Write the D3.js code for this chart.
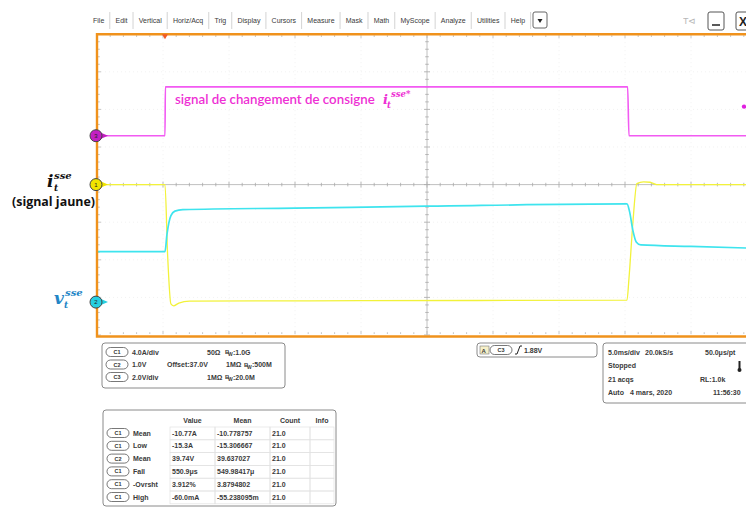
<!DOCTYPE html>
<html><head><meta charset="utf-8">
<script src="https://cdn.jsdelivr.net/npm/d3@7"></script>
<style>html,body{margin:0;padding:0;background:#fff;overflow:hidden} svg{display:block;}</style>
</head><body>
<svg id="c" width="746" height="508"></svg>
<script>
// ---------- DATA ----------
const menuItems = ["File","Edit","Vertical","Horiz/Acq","Trig","Display","Cursors","Measure","Mask","Math","MyScope","Analyze","Utilities","Help"];

// time in ms (5 ms/div, 10 div)
const c1Time = [0, 5.15, 5.35, 5.6, 5.8, 6.2, 7.0, 20, 40.15, 40.3, 40.6, 40.9, 41.4, 41.9, 42.4, 50];
const c1Amps = [0, 0, -7.5, -12.7, -12.9, -12.6, -12.4, -12.35, -12.3, -10, -4, 0.1, 0.3, 0.25, 0, 0];

const c2Time = [0, 5.15, 5.3, 5.6, 5.9, 6.5, 15, 25, 40.15, 40.35, 40.6, 40.85, 41.2, 45, 50];
const c2Volts = [38.34, 38.34, 38.8, 39.3, 39.42, 39.46, 39.5, 39.55, 39.61, 39.4, 38.9, 38.6, 38.52, 38.48, 38.43];

const c3Time = [0, 5.15, 5.18, 40.2, 40.3, 50];
const c3Volts = [0, 0, 2.6, 2.6, 0, 0];

const channelNames = ["1", "2", "3"];
const channelScale = [4, 1, 2];        // units per division
const channelOffset = [0, 37, 0];      // offset (units)
const channelPosition = [0, -3.125, 1.3]; // marker position (div)

const chanRows = [
  ["C1", "4.0A/div", "", "50Ω", "1.0G"],
  ["C2", "1.0V", "Offset:37.0V", "1MΩ", "500M"],
  ["C3", "2.0V/div", "", "1MΩ", "20.0M"]
];

const horizRows = [
  ["5.0ms/div", "20.0kS/s", "50.0μs/pt"],
  ["Stopped", "", ""],
  ["21 acqs", "", "RL:1.0k"],
  ["Auto", "4 mars, 2020", "11:56:30"]
];

const measHeaders = ["Value", "Mean", "Count", "Info"];
const measSources = ["C1", "C1", "C2", "C1", "C1", "C1"];
const measNames = ["Mean", "Low", "Mean", "Fall", "-Ovrsht", "High"];
const measValues = ["-10.77A", "-15.3A", "39.74V", "550.9μs", "3.912%", "-60.0mA"];
const measMeans = ["-10.778757", "-15.306667", "39.637027", "549.98417μ", "3.8794802", "-55.238095m"];
const measCounts = ["21.0", "21.0", "21.0", "21.0", "21.0", "21.0"];

const trigLevel = "1.88V";
const trigMarkerVolts = 1.55;

// ---------- DRAW ----------
const svg = d3.select("#c");
const W = 746, H = 508;
const plot = {l: 97, t: 34.2, r: 757, b: 335};
const x = d3.scaleLinear().domain([0, 50]).range([plot.l, plot.r]);
const yDiv = d3.scaleLinear().domain([-4, 4]).range([plot.b, plot.t]);
const divW = (plot.r - plot.l) / 10, divH = (plot.b - plot.t) / 8;
const font = "Liberation Sans, Arial, sans-serif";
const txtCol = "#3a3a3a";

// menu bar
let mx = 93;
const menuG = svg.append("g").attr("font-family", font).attr("font-size", 7).attr("fill", txtCol);
menuItems.forEach((m, i) => {
  const t = menuG.append("text").attr("x", mx).attr("y", 23).text(m);
  const w = t.node().getComputedTextLength();
  menuG.append("line").attr("x1", mx + w + 5.5).attr("x2", mx + w + 5.5).attr("y1", 12).attr("y2", 29)
    .attr("stroke", "#c8c8c8").attr("stroke-width", 0.8);
  mx += w + 11.2;
});
svg.append("rect").attr("x", 533).attr("y", 12).attr("width", 14).attr("height", 16).attr("rx", 2)
  .attr("fill", "#fff").attr("stroke", "#666");
svg.append("path").attr("d", "M537.5,19 L542.5,19 L540,23 Z").attr("fill", "#222");
svg.append("text").attr("x", 683).attr("y", 24).attr("font-family", font).attr("font-size", 9).attr("fill", "#999").text("T⊲").attr("opacity", 0.7);
svg.append("rect").attr("x", 708).attr("y", 12).attr("width", 16).attr("height", 18).attr("rx", 2).attr("fill", "#fff").attr("stroke", "#555");
svg.append("line").attr("x1", 712).attr("x2", 720).attr("y1", 25).attr("y2", 25).attr("stroke", "#222").attr("stroke-width", 1.5);
svg.append("rect").attr("x", 736).attr("y", 12).attr("width", 16).attr("height", 18).attr("rx", 2).attr("fill", "#fff").attr("stroke", "#555");
svg.append("text").attr("x", 739).attr("y", 26).attr("font-family", font).attr("font-size", 12).attr("font-weight", "bold").attr("fill", "#222").text("X");

// grid
const grid = svg.append("g");
for (let k = 1; k < 10; k++) {
  if (k === 5) continue;
  grid.append("line").attr("x1", plot.l + k * divW).attr("x2", plot.l + k * divW).attr("y1", plot.t).attr("y2", plot.b)
    .attr("stroke", "#ececec").attr("stroke-width", 0.7).attr("stroke-dasharray", "1,3");
}
for (let k = 1; k < 8; k++) {
  if (k === 4) continue;
  grid.append("line").attr("x1", plot.l).attr("x2", plot.r).attr("y1", plot.t + k * divH).attr("y2", plot.t + k * divH)
    .attr("stroke", "#ececec").attr("stroke-width", 0.7).attr("stroke-dasharray", "1,3");
}
const cx = plot.l + 5 * divW, cy = plot.t + 4 * divH;
grid.append("line").attr("x1", plot.l).attr("x2", plot.r).attr("y1", cy).attr("y2", cy).attr("stroke", "#b0b0b0").attr("stroke-width", 0.8);
grid.append("line").attr("x1", cx).attr("x2", cx).attr("y1", plot.t).attr("y2", plot.b).attr("stroke", "#b0b0b0").attr("stroke-width", 0.8);
for (let k = 0; k <= 50; k++) {
  const px = plot.l + k * divW / 5, big = k % 5 === 0 ? 3 : 1.8;
  grid.append("line").attr("x1", px).attr("x2", px).attr("y1", cy - big).attr("y2", cy + big).attr("stroke", "#aaa").attr("stroke-width", 0.8);
  grid.append("line").attr("x1", px).attr("x2", px).attr("y1", plot.t + 1).attr("y2", plot.t + 1 + big).attr("stroke", "#b8b8b8").attr("stroke-width", 0.8);
  grid.append("line").attr("x1", px).attr("x2", px).attr("y1", plot.b - 1).attr("y2", plot.b - 1 - big).attr("stroke", "#b8b8b8").attr("stroke-width", 0.8);
}
for (let k = 0; k <= 40; k++) {
  const py = plot.t + k * divH / 5, big = k % 5 === 0 ? 3 : 1.8;
  grid.append("line").attr("x1", cx - big).attr("x2", cx + big).attr("y1", py).attr("y2", py).attr("stroke", "#aaa").attr("stroke-width", 0.8);
  grid.append("line").attr("x1", plot.l + 1).attr("x2", plot.l + 1 + big).attr("y1", py).attr("y2", py).attr("stroke", "#b8b8b8").attr("stroke-width", 0.8);
}

// traces
const defs = svg.append("defs");
defs.append("clipPath").attr("id", "clip").append("rect").attr("x", plot.l).attr("y", plot.t).attr("width", plot.r - plot.l).attr("height", plot.b - plot.t);
const colors = ["#f2f23a", "#3ee4ee", "#f25af2"];
const widths = [1.3, 1.7, 1.6];
const markerFill = ["#f0e400", "#27cfe0", "#c31fc3"];
function yFor(ch, v) { return yDiv((v - channelOffset[ch]) / channelScale[ch] + channelPosition[ch]); }
const series = [
  {ch: 2, t: c3Time, v: c3Volts},
  {ch: 0, t: c1Time, v: c1Amps},
  {ch: 1, t: c2Time, v: c2Volts}
];
const traces = svg.append("g").attr("clip-path", "url(#clip)");
series.forEach(s => {
  const pts = s.t.map((t, i) => [t, s.v[i]]);
  const line = d3.line().x(d => x(d[0])).y(d => yFor(s.ch, d[1])).curve(d3.curveMonotoneX);
  traces.append("path").datum(pts).attr("d", line).attr("fill", "none").attr("stroke", colors[s.ch]).attr("stroke-width", widths[s.ch]);
});

// annotation text
const ann = svg.append("text").attr("x", 175).attr("y", 104).attr("font-family", "Lato, sans-serif").attr("font-size", 13.5)
  .attr("font-weight", 600).attr("fill", "#ee2fd4");
ann.append("tspan").text("signal de changement de consigne ").attr("textLength", 203).attr("lengthAdjust", "spacingAndGlyphs");
ann.append("tspan").attr("x", 383).attr("y", 104).attr("font-family", "DejaVu Serif, serif").attr("font-style", "italic").attr("font-size", 13).text("i");
ann.append("tspan").attr("x", 391).attr("y", 97).attr("font-family", "DejaVu Serif, serif").attr("font-style", "italic").attr("font-size", 8.5).text("sse*");
ann.append("tspan").attr("x", 387).attr("y", 108).attr("font-family", "DejaVu Serif, serif").attr("font-style", "italic").attr("font-size", 8.5).text("t");

// frame
svg.append("path").attr("d", `M${W + 5},${plot.t} L${plot.l},${plot.t} L${plot.l},${plot.b + 1.5} L${W + 5},${plot.b + 1.5}`)
  .attr("fill", "none").attr("stroke", "#f0921c").attr("stroke-width", 2.4);
// trigger position marker
svg.append("path").attr("d", `M${x(5.15) - 3},${plot.t} L${x(5.15) + 3},${plot.t} L${x(5.15)},${plot.t + 5} Z`).attr("fill", "#f05a28");
// trigger level marker (right)
svg.append("circle").attr("cx", W - 2).attr("cy", yFor(2, trigMarkerVolts)).attr("r", 2.2).attr("fill", "#e020e0");

// channel markers
[2, 0, 1].forEach(ch => {
  const py = yDiv(channelPosition[ch]);
  const g = svg.append("g");
  g.append("path").attr("d", `M101,${py - 3} L108,${py} L101,${py + 3} Z`).attr("fill", markerFill[ch]);
  g.append("circle").attr("cx", 96).attr("cy", py).attr("r", 6).attr("fill", markerFill[ch]).attr("stroke", "#444").attr("stroke-width", 1);
  g.append("text").attr("x", 96).attr("y", py + 2).attr("text-anchor", "middle").attr("font-family", font).attr("font-size", 6)
    .attr("fill", "#222").text(channelNames[ch]);
});

// left labels
function mathLabel(xp, yp, base, color) {
  const t = svg.append("text").attr("font-family", "DejaVu Serif, serif").attr("font-style", "italic").attr("font-weight", "bold").attr("fill", color);
  t.append("tspan").attr("x", xp).attr("y", yp).attr("font-size", 17).text(base);
  t.append("tspan").attr("x", xp + (base === "i" ? 7 : 11)).attr("y", yp - 8).attr("font-size", 10).text("sse");
  t.append("tspan").attr("x", xp + (base === "i" ? 7 : 10)).attr("y", yp + 4).attr("font-size", 9).text("t");
}
mathLabel(47, 187, "i", "#111");
mathLabel(54, 304, "v", "#2385c6");
svg.append("text").attr("x", 12).attr("y", 206).attr("font-family", "Open Sans, sans-serif").attr("font-weight", "bold").attr("font-size", 12)
  .attr("fill", "#111").text("(signal jaune)").attr("textLength", 83).attr("lengthAdjust", "spacingAndGlyphs");

// pill helper
function pill(g, xp, yp, label) {
  g.append("rect").attr("x", xp).attr("y", yp - 4.5).attr("width", 22).attr("height", 9).attr("rx", 4.5)
    .attr("fill", "#fff").attr("stroke", "#555").attr("stroke-width", 0.8);
  g.append("text").attr("x", xp + 11).attr("y", yp + 2).attr("text-anchor", "middle").attr("font-family", font).attr("font-size", 5.5).attr("fill", "#333").text(label);
}
function panel(x0, y0, w, h) {
  svg.append("rect").attr("x", x0).attr("y", y0).attr("width", w).attr("height", h).attr("rx", 3)
    .attr("fill", "#fff").attr("stroke", "#8a8a8a").attr("stroke-width", 1);
}

// channel panel
panel(102, 343, 183, 45);
const cp = svg.append("g").attr("font-family", font).attr("font-size", 7).attr("fill", txtCol).attr("font-weight", "bold");
chanRows.forEach((r, i) => {
  const py = 352 + i * 12.5;
  pill(cp, 106, py, r[0]);
  cp.append("text").attr("x", 132).attr("y", py + 2.5).text(r[1]);
  if (r[2]) cp.append("text").attr("x", 167).attr("y", py + 2.5).text(r[2]);
  const ox = i === 1 ? 226 : 207;
  cp.append("text").attr("x", ox).attr("y", py + 2.5).text(r[3]);
  const bx = ox + 18;
  cp.append("text").attr("x", bx).attr("y", py + 2).text("B").attr("font-size", 6);
  cp.append("text").attr("x", bx + 3).attr("y", py + 4).text("W").attr("font-size", 5);
  cp.append("text").attr("x", bx + 8).attr("y", py + 2.5).text(":" + r[4]);
});

// trigger panel
panel(477, 343, 120, 14);
const tp = svg.append("g").attr("font-family", font).attr("font-size", 7).attr("fill", txtCol).attr("font-weight", "bold");
tp.append("rect").attr("x", 480).attr("y", 346).attr("width", 9).attr("height", 8).attr("fill", "#f6f0c8").attr("stroke", "#777").attr("stroke-width", 0.6);
tp.append("text").attr("x", 481.5).attr("y", 352.5).attr("font-size", 6).text("A");
pill(tp, 490, 350, "C3");
tp.append("path").attr("d", "M515,354 L517,354 L520,346 L522,346").attr("fill", "none").attr("stroke", "#222").attr("stroke-width", 1);
tp.append("text").attr("x", 524).attr("y", 352.5).text(trigLevel);

// horizontal panel
panel(603, 343, 160, 60);
const hp = svg.append("g").attr("font-family", font).attr("font-size", 7).attr("fill", txtCol).attr("font-weight", "bold");
horizRows.forEach((r, i) => {
  const py = 354.5 + i * 13.5;
  hp.append("text").attr("x", 608).attr("y", py).text(r[0]);
  if (r[1]) hp.append("text").attr("x", i === 3 ? 630 : 645).attr("y", py).text(r[1]);
  if (r[2]) hp.append("text").attr("x", i === 3 ? 713 : (i === 2 ? 700 : 705)).attr("y", py).text(r[2]);
});
hp.append("rect").attr("x", 738.5).attr("y", 361).attr("width", 2).attr("height", 8).attr("fill", "#222");
hp.append("circle").attr("cx", 739.5).attr("cy", 370).attr("r", 2).attr("fill", "#222");

// measurement panel
panel(103, 410, 233, 96);
const mp = svg.append("g").attr("font-family", font).attr("font-size", 7).attr("fill", txtCol).attr("font-weight", "bold");
const colX = [170, 215, 270, 310, 334];
measHeaders.forEach((h, i) => {
  mp.append("text").attr("x", (colX[i] + colX[i + 1]) / 2).attr("y", 422.5).attr("text-anchor", "middle").text(h);
});
measSources.forEach((s, i) => {
  const py = 433 + i * 12.8;
  pill(mp, 107, py, s);
  mp.append("text").attr("x", 133).attr("y", py + 2.5).text(measNames[i]);
  for (let c = 0; c < 4; c++) {
    mp.append("rect").attr("x", colX[c]).attr("y", py - 6).attr("width", colX[c + 1] - colX[c]).attr("height", 12.8)
      .attr("fill", "none").attr("stroke", "#e2e2e2").attr("stroke-width", 0.7);
  }
  mp.append("text").attr("x", colX[0] + 2).attr("y", py + 2.5).text(measValues[i]);
  mp.append("text").attr("x", colX[1] + 2).attr("y", py + 2.5).text(measMeans[i]);
  mp.append("text").attr("x", colX[2] + 2).attr("y", py + 2.5).text(measCounts[i]);
});
</script>
</body></html>
